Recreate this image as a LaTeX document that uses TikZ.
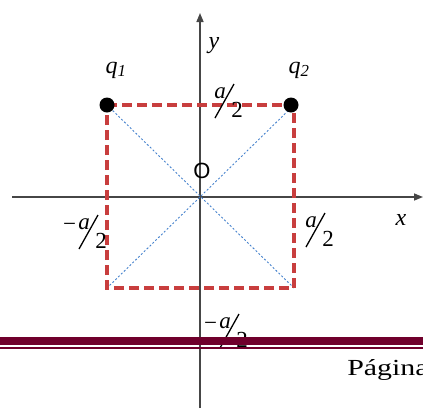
\documentclass[tikz,border=0pt]{standalone}
\usepackage{fontspec}
\setmainfont{Liberation Serif}
\setsansfont{Liberation Sans}
\usetikzlibrary{arrows.meta,calc}
\definecolor{axisgray}{RGB}{70,70,70}
\definecolor{sqred}{RGB}{200,62,62}
\definecolor{diagblue}{RGB}{70,130,205}
\definecolor{maroon}{RGB}{112,0,44}
\tikzset{
  axisline/.style={draw=axisgray,line width=1.5pt,-{Triangle[length=9pt,width=7pt]}},
  sqline/.style={draw=sqred,line width=3.2pt,dash pattern=on 10pt off 5pt},
  diagline/.style={draw=diagblue,line width=0.9pt,dash pattern=on 2pt off 2pt},
  charge/.style={circle,fill=black,inner sep=0pt,minimum size=15pt},
  fracbar/.style={draw=black,line width=1.3pt},
  fractext/.style={inner sep=0pt,font=\fontsize{23}{23}\selectfont},
  lbl/.style={inner sep=0pt,font=\fontsize{24}{24}\selectfont\itshape},
  barthick/.style={draw=maroon,line width=8pt},
  barthin/.style={draw=maroon,line width=1.6pt},
}
\newcommand\halfmark[3]{%
  \coordinate (#1) at (#2);
  \draw[fracbar] (#1) -- ($(#1)+(19,-34)$);
  \node[fractext] (#1a) at ($(#1)+(5,-25)$) {\textit{a}};
  \node[fractext] (#1b) at ($(#1)+(22,-8)$) {2};
  \ifx#3m\node[fractext] (#1m) at ($(#1)+(-9.5,-22)$) {−};\fi
}
\begin{document}
\begin{tikzpicture}[x=1pt,y=-1pt]
\useasboundingbox (0,0) rectangle (423,408);
% axes
\coordinate (xs) at (12,197);
\coordinate (xe) at (423,197);
\coordinate (ys) at (200,408);
\coordinate (ye) at (200,13);
\draw[axisline] (xs) -- (xe);
\draw[axisline] (ys) -- (ye);
% square corners
\coordinate (c1) at (107,105);
\coordinate (c2) at (294,105);
\coordinate (c3) at (294,288);
\coordinate (c4) at (107,288);
\draw[diagline] (c1) -- (c3);
\draw[diagline] (c2) -- (c4);
\draw[sqline] (c1) -- (c2) -- (c3) -- (c4) -- cycle;
\node[charge] (q1dot) at (107,105) {};
\node[charge] (q2dot) at (291,105) {};
% labels
\node[lbl] (q1) at (116,70) {q\textsubscript{1}};
\node[lbl] (q2) at (299,70) {q\textsubscript{2}};
\node[lbl] (ylab) at (214,46) {y};
\node[lbl] (xlab) at (401,220) {x};
\node[inner sep=0pt,font=\fontsize{22}{22}\selectfont\sffamily] (O) at (202,170.5) {O};
\halfmark{ht}{215,118}{n}
\halfmark{hr}{306,247}{n}
\halfmark{hl}{79,249}{m}
\halfmark{hb}{220,348}{m}
% footer bar
\coordinate (b1) at (0,341);
\coordinate (b2) at (423,341);
\coordinate (t1) at (0,348.2);
\coordinate (t2) at (423,348.2);
\draw[barthick] (b1) -- (b2);
\draw[barthin] (t1) -- (t2);
\node[anchor=base west,inner sep=0pt,xscale=1.3,font=\fontsize{23}{23}\selectfont] (pg) at (347,375) {Página};
\end{tikzpicture}
\end{document}
